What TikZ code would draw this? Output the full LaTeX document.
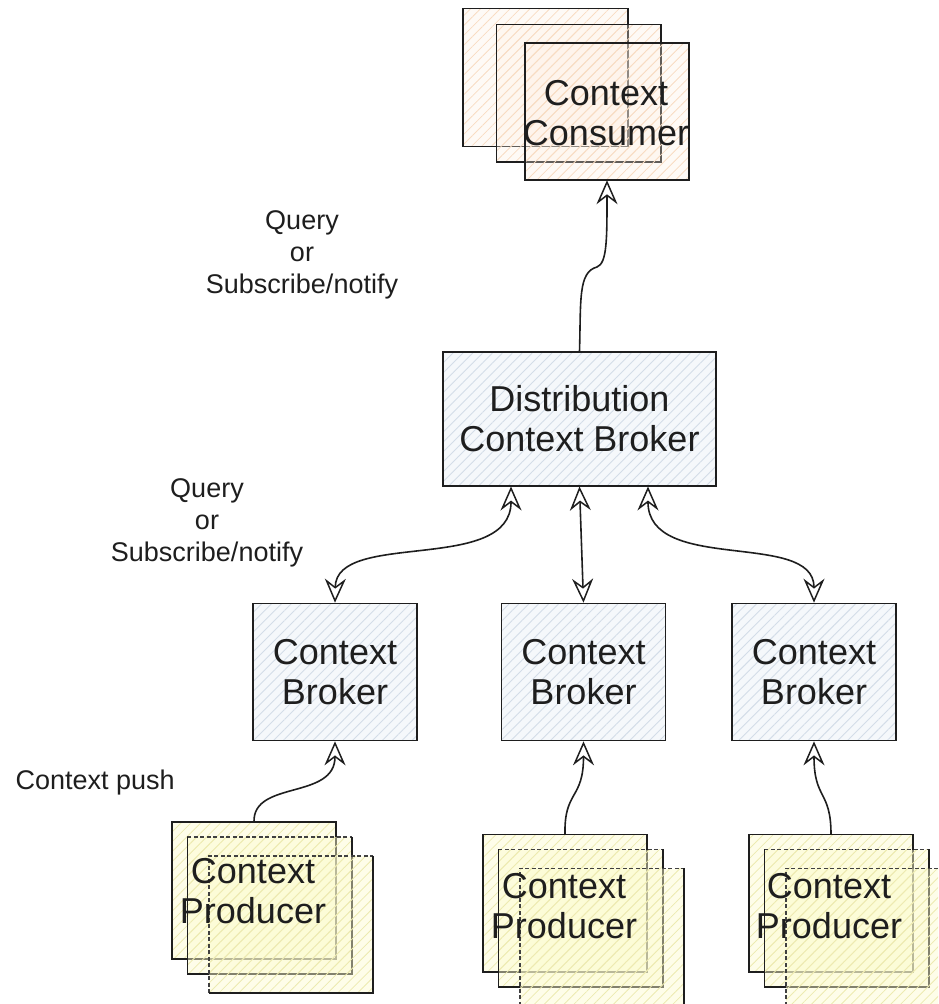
\documentclass[tikz,border=0pt]{standalone}
\usepackage{fontspec}
\setmainfont{Liberation Sans}
\usetikzlibrary{arrows.meta,patterns.meta,calc}
\definecolor{ink}{HTML}{1E1E1E}
\definecolor{consfill}{HTML}{FDEFE2}
\definecolor{conshatch}{HTML}{F8DCC2}
\definecolor{brokfill}{HTML}{F5F8FB}
\definecolor{brokhatch}{HTML}{D3DDE8}
\definecolor{prodfill}{HTML}{FCFBCF}
\definecolor{prodhatch}{HTML}{EDEAB0}
\begin{document}
\begin{tikzpicture}[x=1pt,y=-1pt,
  boxtext/.style={font=\fontsize{36}{40}\selectfont, text=ink, align=center},
  labeltext/.style={font=\fontsize{27}{32}\selectfont, text=ink, align=center},
  card/.style={rectangle, inner sep=0pt, minimum width=164pt, minimum height=137pt},
  brokerbox/.style={card, boxtext, draw=ink, line width=1.6pt,
    preaction={fill=brokfill},
    pattern={Lines[angle=45,distance=7pt,line width=0.9pt]}, pattern color=brokhatch},
  consbox/.style={card,
    preaction={fill=consfill, fill opacity=0.3},
    pattern={Lines[angle=45,distance=7pt,line width=0.8pt]}, pattern color=conshatch},
  prodbox/.style={card,
    preaction={fill=prodfill, fill opacity=0.45},
    pattern={Lines[angle=45,distance=7pt,line width=0.8pt]}, pattern color=prodhatch},
  edge/.style={draw=ink, line width=1.6pt},
  dashedge/.style={draw=ink!85, line width=1.4pt, dash pattern=on 4pt off 2.5pt},
  tip/.tip={Stealth[open, length=24pt, width=21pt, inset=8pt, line width=1.5pt]},
  arr/.style={edge, -tip},
  darr/.style={edge, tip-tip}]
\useasboundingbox (0,0) rectangle (938,1004);
\clip (0,0) rectangle (938,1004);

% ---------- context consumer stack ----------
\node[consbox] (cons1) at (545.5,77.5) {};
\draw[edge] (cons1.north west) rectangle (cons1.south east);
\node[consbox] (cons2) at (578.5,93) {};
\draw[edge] (cons2.north west) rectangle (cons2.south east);
\node[consbox] (cons3) at (607,111.5) {};
\draw[edge] (cons3.north west) rectangle (cons3.south east);
\node[boxtext] (constext) at (606,113) {Context\\Consumer};

% ---------- distribution broker ----------
\node[brokerbox, minimum width=273pt, minimum height=134pt] (dist) at (579.5,419)
  {Distribution\\Context Broker};

% ---------- context brokers ----------
\node[brokerbox] (br1) at (335,672) {Context\\Broker};
\node[brokerbox] (br2) at (583.5,672) {Context\\Broker};
\node[brokerbox] (br3) at (814,672) {Context\\Broker};

% ---------- context producer stacks ----------
\foreach \n/\x/\y in {A/254/890.5, B/565/903, C/831/903} {
  \node[prodbox] (p\n1) at (\x,\y) {};
  \draw[edge] (p\n1.north west) rectangle (p\n1.south east);
  \node[prodbox] (p\n2) at ($(\x,\y)+(15.5,15)$) {};
  \draw[dashedge] (p\n2.north west) -- (p\n2.north east);
  \draw[edge] (p\n2.north east) -- (p\n2.south east) -- (p\n2.south west) -- (p\n2.north west);
  \node[prodbox] (p\n3) at ($(\x,\y)+(37,34)$) {};
  \draw[dashedge] (p\n3.south west) -- (p\n3.north west) -- (p\n3.north east);
  \draw[edge] (p\n3.north east) -- (p\n3.south east) -- (p\n3.south west);
}
\node[boxtext] (ptA) at (253,891) {Context\\Producer};
\node[boxtext] (ptB) at (564,906) {Context\\Producer};
\node[boxtext] (ptC) at (829,906) {Context\\Producer};

% ---------- labels ----------
\node[labeltext] (lab1) at (302,255) {Query\\or\\Subscribe/notify};
\node[labeltext] (lab2) at (207,523) {Query\\or\\Subscribe/notify};
\node[labeltext, anchor=west] (lab3) at (12,783) {Context push};

% ---------- connectors ----------
\draw[arr] (dist.north) .. controls (581,300) and (578,272) .. (597,267)
  .. controls (607,263) and (607,240) .. (cons3.south);

\coordinate (d1) at ($(dist.south west)!0.25!(dist.south east)$);
\coordinate (d3) at ($(dist.south west)!0.75!(dist.south east)$);
\draw[darr] (d1) .. controls ($(d1)+(0,88)$) and ($(br1.north)+(1,-73)$) .. (br1.north);
\draw[darr] (dist.south) -- (br2.north);
\draw[darr] (d3) .. controls ($(d3)+(0,88)$) and ($(br3.north)+(0,-73)$) .. (br3.north);

\draw[arr] (pA1.north) .. controls (253,780) and (335,800) .. (br1.south);
\draw[arr] (pB1.north) .. controls (564,790) and (583.5,800) .. (br2.south);
\draw[arr] (pC1.north) .. controls (831,790) and (814,800) .. (br3.south);
\end{tikzpicture}
\end{document}
